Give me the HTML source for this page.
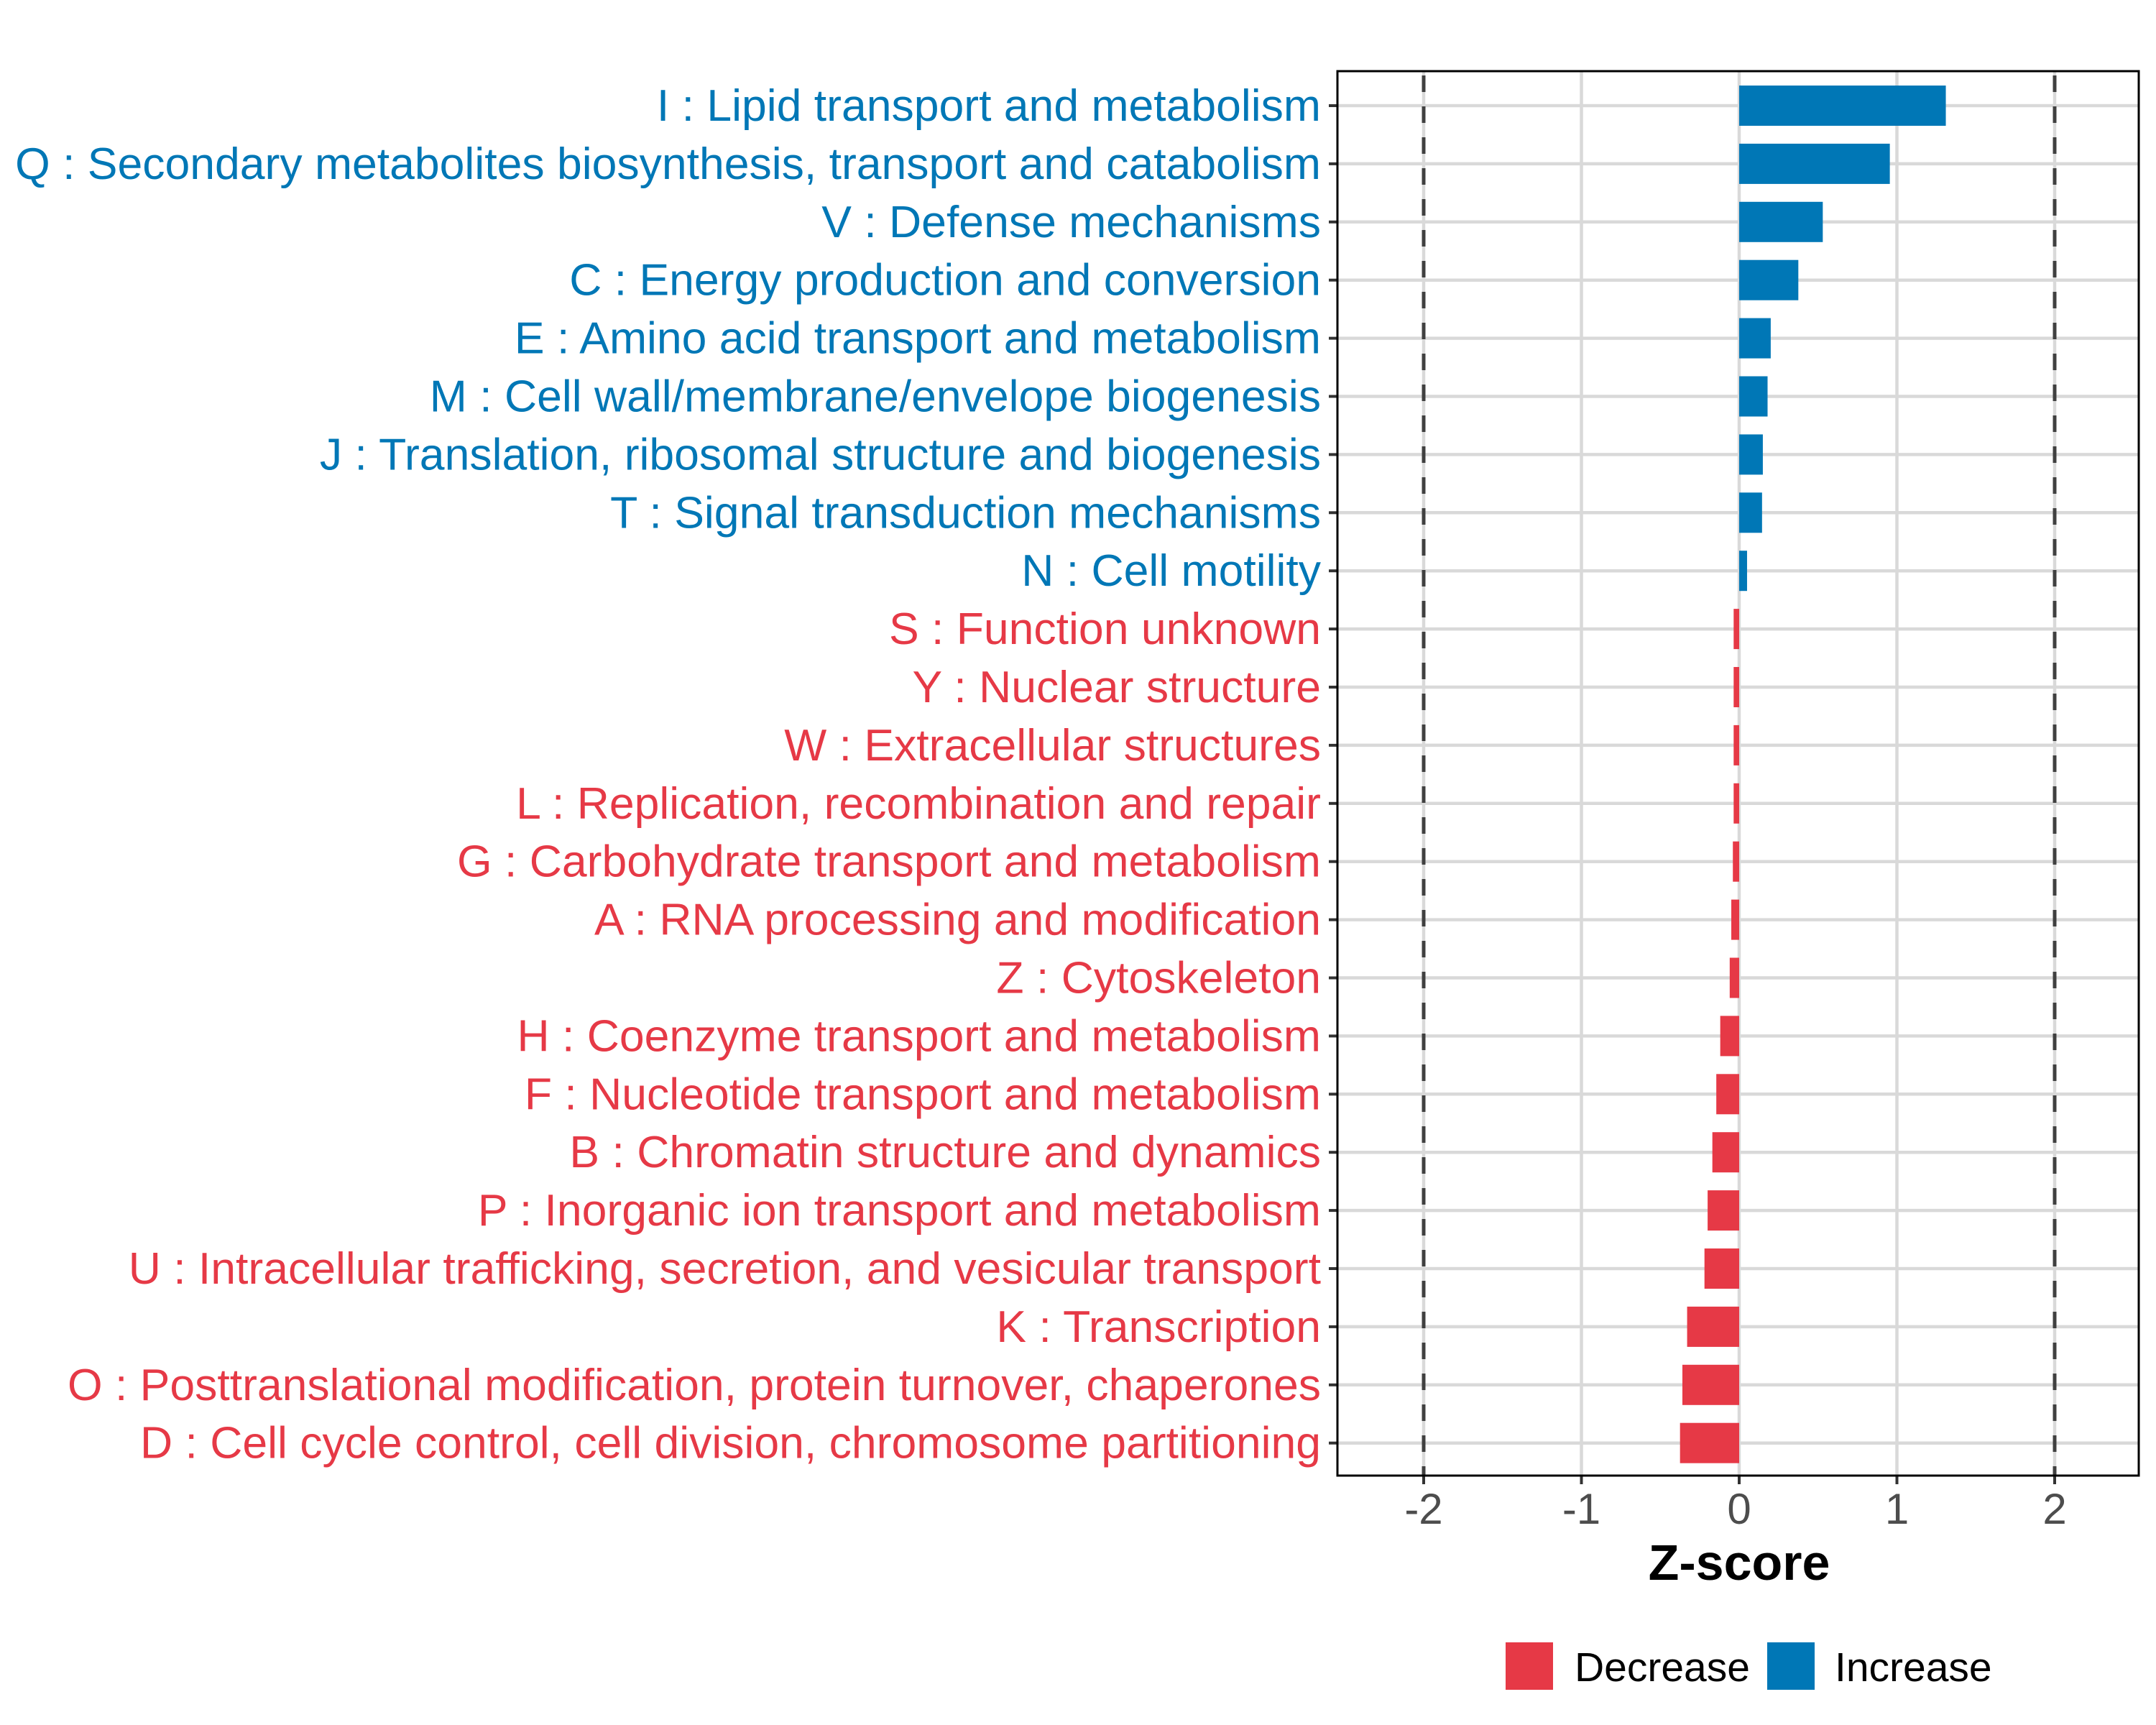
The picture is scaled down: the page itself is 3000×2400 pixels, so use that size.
<!DOCTYPE html>
<html><head><meta charset="utf-8"><style>html,body{margin:0;padding:0;background:#fff}svg{display:block}text{font-family:"Liberation Sans",sans-serif}</style></head>
<body>
<svg id="chart" width="3000" height="2400" viewBox="0 0 3000 2400" xmlns="http://www.w3.org/2000/svg">
<rect width="3000" height="2400" fill="#fff"/>
<g id="grid"></g>
<g id="bars"></g>
<g id="ylabels"></g>
<g id="xticks"></g>
<rect x="1861" y="99" width="1115" height="1954" fill="none" stroke="#000" stroke-width="3"/>
<text x="2420" y="2198" font-size="70" font-weight="bold" text-anchor="middle">Z-score</text>
<g>
<rect x="2095" y="2285" width="66" height="66" fill="#E63946"/>
<text x="2191" y="2339" font-size="57">Decrease</text>
<rect x="2459" y="2285" width="66" height="66" fill="#0077B6"/>
<text x="2553" y="2339" font-size="57">Increase</text>
</g>
</svg>
<script>
const categories = ["I : Lipid transport and metabolism","Q : Secondary metabolites biosynthesis, transport and catabolism","V : Defense mechanisms","C : Energy production and conversion","E : Amino acid transport and metabolism","M : Cell wall/membrane/envelope biogenesis","J : Translation, ribosomal structure and biogenesis","T : Signal transduction mechanisms","N : Cell motility","S : Function unknown","Y : Nuclear structure","W : Extracellular structures","L : Replication, recombination and repair","G : Carbohydrate transport and metabolism","A : RNA processing and modification","Z : Cytoskeleton","H : Coenzyme transport and metabolism","F : Nucleotide transport and metabolism","B : Chromatin structure and dynamics","P : Inorganic ion transport and metabolism","U : Intracellular trafficking, secretion, and vesicular transport","K : Transcription","O : Posttranslational modification, protein turnover, chaperones","D : Cell cycle control, cell division, chromosome partitioning"];
const zscores = [1.31,0.955,0.53,0.375,0.2,0.18,0.15,0.145,0.05,-0.035,-0.035,-0.035,-0.035,-0.04,-0.05,-0.06,-0.12,-0.145,-0.17,-0.2,-0.22,-0.33,-0.36,-0.375];
const xTicks = [-2,-1,0,1,2];
const xTickLabels = ["-2","-1","0","1","2"];
const thresholds = [-2,2];

const NS="http://www.w3.org/2000/svg";
const PL=1861, PR=2976, PT=99, PB=2053;
const X0=2420, UNIT=219.5;
const xs = v => X0 + v*UNIT;
const ROW0=147, STEP=80.9;
const ys = i => ROW0 + i*STEP;
const BAR_H=56;
const BLUE="#0077B6", RED="#E63946";
function mk(tag, attrs, parent){const e=document.createElementNS(NS,tag);for(const k in attrs)e.setAttribute(k,attrs[k]);parent.appendChild(e);return e;}
const grid=document.getElementById('grid'), bars=document.getElementById('bars'), yl=document.getElementById('ylabels'), xt=document.getElementById('xticks');
xTicks.forEach((t,i)=>{
  const l=mk('line',{x1:xs(t),x2:xs(t),y1:PT,y2:PB,stroke:'#d9d9d9','stroke-width':4.5},grid);
  
  
  const tk=mk('line',{x1:xs(t),x2:xs(t),y1:PB,y2:PB+12,stroke:'#333','stroke-width':4},xt);
  
  
  const tx=mk('text',{x:xs(t),y:2120,'font-size':60,fill:'#4d4d4d','text-anchor':'middle'},xt);
  tx.textContent=xTickLabels[i];
  
  
});
categories.forEach((c,i)=>{
  const g=mk('line',{x1:PL,x2:PR,y1:ys(i),y2:ys(i),stroke:'#d9d9d9','stroke-width':4.5},grid);
  
  
});
thresholds.forEach(t=>{
  const l=mk('line',{x1:xs(t),x2:xs(t),y1:PT,y2:PB,stroke:'#404040','stroke-width':5,'stroke-dasharray':'23 20','stroke-dashoffset':'-6'},grid);
  
  
});
categories.forEach((c,i)=>{
  const v=zscores[i], col=v>=0?BLUE:RED;
  const x=Math.min(xs(0),xs(v)), w=Math.abs(xs(v)-xs(0));
  const r=mk('rect',{x:x,y:ys(i)-BAR_H/2,width:w,height:BAR_H,fill:col},bars);
  
  
  const tk=mk('line',{x1:PL-12,x2:PL,y1:ys(i),y2:ys(i),stroke:'#333','stroke-width':4},yl);
  
  
  const t=mk('text',{x:1838,y:ys(i)+21,'font-size':62.5,fill:col,'text-anchor':'end'},yl);
  t.textContent=c;
  
  
});
</script>
</body></html>
